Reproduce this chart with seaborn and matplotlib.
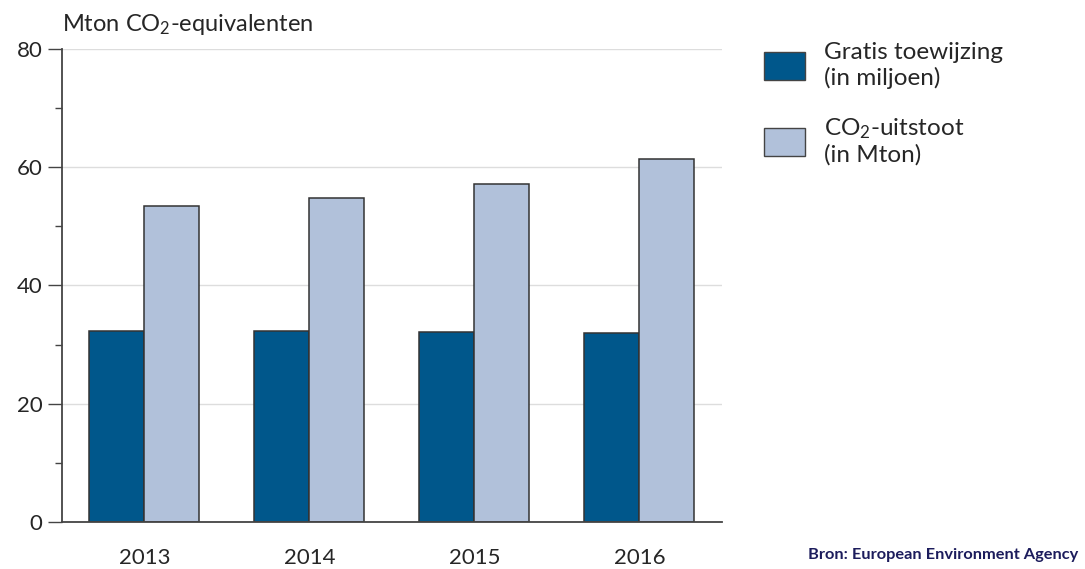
import matplotlib
matplotlib.use("Agg")
import matplotlib.pyplot as plt
from matplotlib.ticker import MultipleLocator
import pandas as pd
import seaborn as sns

years = ["2013", "2014", "2015", "2016"]
gratis = [32.3, 32.3, 32.1, 32.0]
uitstoot = [53.4, 54.8, 57.2, 61.4]
series = ["Gratis toewijzing\n(in miljoen)", "CO$_2$-uitstoot\n(in Mton)"]
colors = ["#00578b", "#b1c1da"]

df = pd.DataFrame({
    "Jaar": years * 2,
    "Serie": [series[0]] * 4 + [series[1]] * 4,
    "Waarde": gratis + uitstoot,
})

sns.set_style("white")
plt.rcParams["font.family"] = ["Lato", "DejaVu Sans"]
plt.rcParams["mathtext.fontset"] = "custom"
plt.rcParams["mathtext.rm"] = "Lato"
plt.rcParams["mathtext.it"] = "Lato"

fig = plt.figure(figsize=(10.85, 5.69), dpi=100)
ax = fig.add_axes([0.0571, 0.0826, 0.6083, 0.8313])

sns.barplot(data=df, x="Jaar", y="Waarde", hue="Serie", palette=colors,
            width=0.667, edgecolor="#333333", linewidth=1.1, saturation=1,
            ax=ax, legend=False)

ax.set_xlim(-0.5, 3.5)
ax.set_ylim(0, 80)
ax.yaxis.set_major_locator(MultipleLocator(20))
ax.yaxis.set_minor_locator(MultipleLocator(10))
ax.yaxis.grid(True, which="major", color="#dddddd", linewidth=1)
ax.set_axisbelow(True)
ax.set_xlabel("")
ax.set_ylabel("")

for s in ["top", "right"]:
    ax.spines[s].set_visible(False)
for s in ["left", "bottom"]:
    ax.spines[s].set_color("#444444")
    ax.spines[s].set_linewidth(1.3)

ax.tick_params(axis="y", which="major", length=10, width=1, color="#444444",
               labelsize=16, pad=4, left=True)
ax.tick_params(axis="y", which="minor", length=5, width=1, color="#444444", left=True)
ax.tick_params(axis="x", length=0, labelsize=16, pad=19)

ax.text(0.0, 1.025, "Mton CO$_2$-equivalenten", transform=ax.transAxes,
        fontsize=17, ha="left", va="bottom")

handles = [plt.Rectangle((0, 0), 1, 1, facecolor=c, edgecolor="#444444", linewidth=1)
           for c in colors]
fig.legend(handles, series, loc="upper left", bbox_to_anchor=(0.684, 0.965),
           frameon=False, fontsize=17.5, handlelength=1.7, handleheight=1.4,
           labelspacing=1.15, handletextpad=0.75)

fig.text(0.994, 0.012, "Bron: European Environment Agency", ha="right", va="bottom",
         fontsize=11.8, fontweight="bold", color="#1c1c5c")

plt.savefig("out.png", dpi=100)
